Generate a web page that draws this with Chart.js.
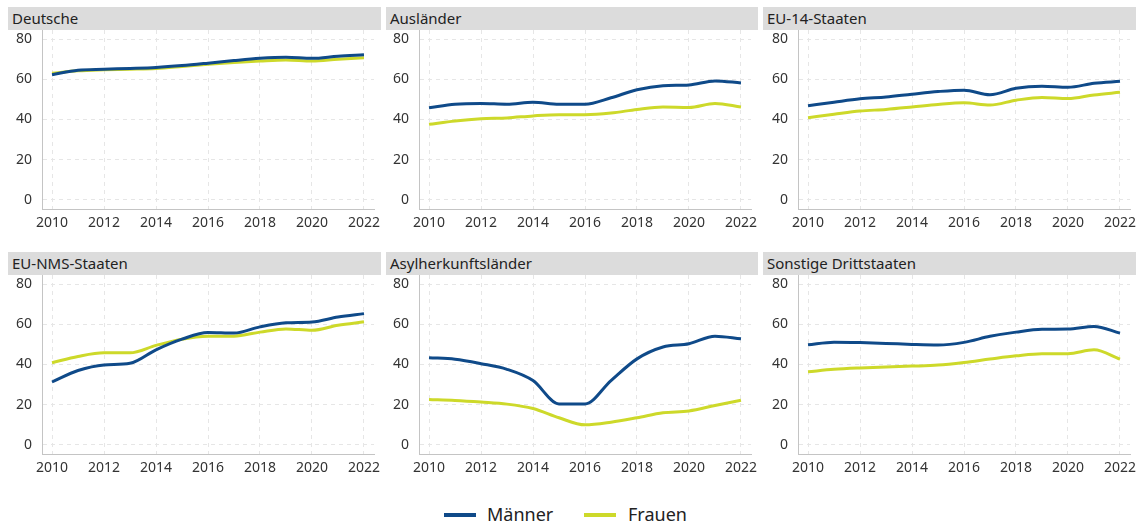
<!DOCTYPE html>
<html>
<head>
<meta charset="utf-8">
<script src="https://cdn.jsdelivr.net/npm/chart.js@4"></script>
<style>
  body { margin: 0; background: #fff; width: 1142px; height: 526px; position: relative; overflow: hidden; font-family: 'Noto Sans', sans-serif; }
  .head { position: absolute; height: 23px; background: #dcdcdc; color: #222; font-size: 15px; line-height: 23px; padding-left: 4px; box-sizing: border-box; }
  .box { position: absolute; }
  .legend { position: absolute; top: 502px; left: 0; width: 1142px; height: 24px; }
  .legend .swatch { position: absolute; top: 11px; width: 32px; height: 4px; }
  .legend .lbl { position: absolute; top: 0; font-size: 18px; color: #222; line-height: 24px; }
</style>
</head>
<body>
<div id="wrap"></div>
<div class="legend">
  <div class="swatch" style="left:444px;background:#0f4a89"></div>
  <div class="lbl" style="left:487px">Männer</div>
  <div class="swatch" style="left:584px;background:#cdd92a"></div>
  <div class="lbl" style="left:628px">Frauen</div>
</div>
<script>
// data
const years = [2010, 2011, 2012, 2013, 2014, 2015, 2016, 2017, 2018, 2019, 2020, 2021, 2022];
const xTicks = [2010, 2012, 2014, 2016, 2018, 2020, 2022];
const yTicks = [0, 20, 40, 60, 80];
const titles = ['Deutsche', 'Ausländer', 'EU-14-Staaten', 'EU-NMS-Staaten', 'Asylherkunftsländer', 'Sonstige Drittstaaten'];

const deutscheM = [62.3, 64.5, 65, 65.4, 65.9, 66.8, 68, 69.3, 70.4, 70.9, 70.4, 71.5, 72.2];
const deutscheF = [63, 64.2, 64.7, 65, 65.4, 66.4, 67.5, 68.4, 69.1, 69.6, 69.1, 70, 70.7];
const auslaenderM = [45.8, 47.6, 48, 47.6, 48.6, 47.6, 47.6, 50.8, 54.8, 56.8, 57.2, 59.2, 58.2];
const auslaenderF = [37.6, 39.3, 40.4, 40.8, 41.8, 42.4, 42.4, 43.2, 45, 46.2, 46, 48, 46.2];
const eu14M = [46.8, 48.6, 50.3, 51.2, 52.6, 53.9, 54.6, 52.3, 55.5, 56.5, 56, 58, 59];
const eu14F = [40.9, 42.6, 44.2, 45, 46.2, 47.5, 48.3, 47.2, 49.6, 51, 50.4, 52.2, 53.5];
const nmsM = [31.3, 37, 39.8, 40.6, 47.3, 52.6, 55.9, 55.6, 58.7, 60.7, 61.1, 63.6, 65.3];
const nmsF = [40.9, 44, 45.8, 45.8, 49.5, 52.6, 54, 54.1, 56.1, 57.7, 57, 59.5, 61.2];
const asylM = [43.4, 42.6, 40.4, 37.6, 32, 20.4, 20.4, 32, 42.8, 48.7, 50.3, 54.1, 52.8];
const asylF = [22.6, 22.1, 21.3, 20.3, 18.1, 13.5, 10, 11.3, 13.5, 16, 16.9, 19.6, 22.2];
const sonstM = [49.8, 51.1, 50.9, 50.5, 50, 49.7, 51, 54, 56.1, 57.5, 57.6, 58.9, 55.6];
const sonstF = [36.4, 37.6, 38.3, 38.8, 39.2, 39.7, 41, 42.7, 44.3, 45.4, 45.4, 47.3, 42.7];

const maenner = [deutscheM, auslaenderM, eu14M, nmsM, asylM, sonstM];
const frauen = [deutscheF, auslaenderF, eu14F, nmsF, asylF, sonstF];

const blue = '#0f4a89';
const yellow = '#cdd92a';

// layout of the six panels
const heads = [[8, 7, 373], [386, 7, 372], [763, 7, 373], [8, 252, 373], [386, 252, 372], [763, 252, 373]];
const axisLeft = [42, 419, 798, 42, 419, 798];
const areaTop = [30, 30, 30, 275, 275, 275];

const wrap = document.getElementById('wrap');

// drop the automatic label padding so the plot area fills the box
const noPad = (s) => { s.paddingTop = 0; s.paddingBottom = 0; s.paddingLeft = 0; s.paddingRight = 0; };

titles.forEach((title, i) => {
  const h = document.createElement('div');
  h.className = 'head';
  h.style.left = heads[i][0] + 'px';
  h.style.top = heads[i][1] + 'px';
  h.style.width = heads[i][2] + 'px';
  h.textContent = title;
  wrap.appendChild(h);

  const box = document.createElement('div');
  box.className = 'box';
  const left = axisLeft[i] - 36;
  box.style.left = left + 'px';
  box.style.top = areaTop[i] + 'px';
  box.style.width = '376px';
  box.style.height = '210px';
  const canvas = document.createElement('canvas');
  box.appendChild(canvas);
  wrap.appendChild(box);

  const toPoints = (arr) => arr.map((v, k) => ({ x: years[k], y: v }));

  new Chart(canvas.getContext('2d'), {
    type: 'line',
    data: {
      datasets: [
        { label: 'Männer', data: toPoints(maenner[i]), borderColor: blue, borderWidth: 3, pointRadius: 0, cubicInterpolationMode: 'monotone' },
        { label: 'Frauen', data: toPoints(frauen[i]), borderColor: yellow, borderWidth: 3, pointRadius: 0, cubicInterpolationMode: 'monotone' }
      ]
    },
    options: {
      responsive: true,
      maintainAspectRatio: false,
      animation: false,
      layout: { padding: { top: 0, right: 8, left: 0, bottom: 0 } },
      plugins: { legend: { display: false }, tooltip: { enabled: false } },
      scales: {
        x: {
          type: 'linear',
          min: 2009.615,
          max: 2022.385,
          afterBuildTicks: (s) => { s.ticks = xTicks.map(v => ({ value: v })); },
          afterFit: (s) => { s.height = 31; noPad(s); },
          grid: { color: '#e6e6e6', drawTicks: false },
          border: { color: '#c4c4c4', width: 1, dash: [4, 4] },
          ticks: { color: '#333', font: { family: 'Noto Sans', size: 14 }, padding: 6, maxRotation: 0, callback: (v) => String(v) }
        },
        y: {
          min: -4.5,
          max: 84.5,
          afterBuildTicks: (s) => { s.ticks = yTicks.map(v => ({ value: v })); },
          afterFit: (s) => { s.width = 36; noPad(s); },
          grid: { color: '#e6e6e6', drawTicks: false },
          border: { color: '#c4c4c4', width: 1, dash: [4, 4] },
          ticks: { color: '#333', font: { family: 'Noto Sans', size: 14 }, padding: 10 }
        }
      }
    }
  });
});
</script>
</body>
</html>
